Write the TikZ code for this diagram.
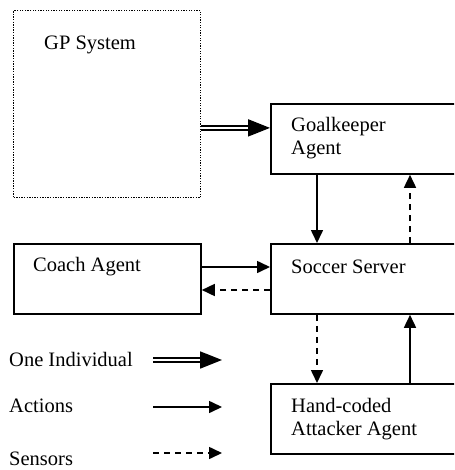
\documentclass[tikz,border=0pt]{standalone}
\usepackage{fontspec}
\setmainfont{Liberation Serif}
\usetikzlibrary{arrows.meta}
\begin{document}
\begin{tikzpicture}[x=1pt,y=-1pt,
  box/.style={draw,line width=1.8pt,rectangle,anchor=north west,inner sep=0pt},
  lbl/.style={anchor=west,inner sep=0pt,font=\fontsize{20.5}{23}\selectfont,align=left},
  act/.style={line width=1.6pt,-{Triangle[length=13pt,width=12pt]}},
  sen/.style={line width=1.6pt,dash pattern=on 6pt off 5pt,-{Triangle[length=13pt,width=12pt]}},
  dbl/.style={double,double distance=2.2pt,line width=1.8pt,-{Triangle[length=22pt,width=17pt]}}]
\useasboundingbox (0,0) rectangle (454,470);
\clip (0,0) rectangle (454,470);
\node[draw,line width=1.3pt,dash pattern=on 1.3pt off 1.3pt,rectangle,anchor=north west,inner sep=0pt,minimum width=187pt,minimum height=187pt] (gp) at (13,10) {};
\node[box,minimum width=200pt,minimum height=70pt] (gk) at (270,103) {};
\node[box,minimum width=200pt,minimum height=70pt] (ss) at (270,243) {};
\node[box,minimum width=187pt,minimum height=70pt] (ca) at (13,243) {};
\node[box,minimum width=200pt,minimum height=70pt] (ha) at (270,383) {};
\node[lbl] (gpt) at (44,45) {GP System};
\node[lbl] (gkt) at (291,138) {Goalkeeper\\Agent};
\node[lbl] (sst) at (291,267) {Soccer Server};
\node[lbl] (cat) at (33,267) {Coach Agent};
\node[lbl] (hat) at (291,419) {Hand-coded\\Attacker Agent};
\node[lbl] (l1) at (9,359) {One Individual};
\node[lbl] (l2) at (9,406) {Actions};
\node[lbl] (l3) at (9,459) {Sensors};
\coordinate (g1) at ([yshift=11pt]gk.west);
\draw[dbl] (gp.east |- g1) -- (g1);
\draw[act] ([xshift=47pt]gk.south west) -- ([xshift=47pt]ss.north west);
\draw[sen] ([xshift=140pt]ss.north west) -- ([xshift=140pt]gk.south west);
\draw[act] ([yshift=-24pt]ca.north east) -- ([yshift=-24pt]ss.north west);
\draw[sen] ([yshift=-47pt]ss.north west) -- ([yshift=-47pt]ca.north east);
\draw[sen] ([xshift=47pt]ss.south west) -- ([xshift=47pt]ha.north west);
\draw[act] ([xshift=140pt]ha.north west) -- ([xshift=140pt]ss.south west);
\coordinate (a1) at (153,360); \coordinate (b1) at (222,360);
\coordinate (a2) at (153,407); \coordinate (b2) at (222,407);
\coordinate (a3) at (153,453); \coordinate (b3) at (222,453);
\draw[dbl] (a1) -- (b1);
\draw[act] (a2) -- (b2);
\draw[sen] (a3) -- (b3);
\end{tikzpicture}
\end{document}
